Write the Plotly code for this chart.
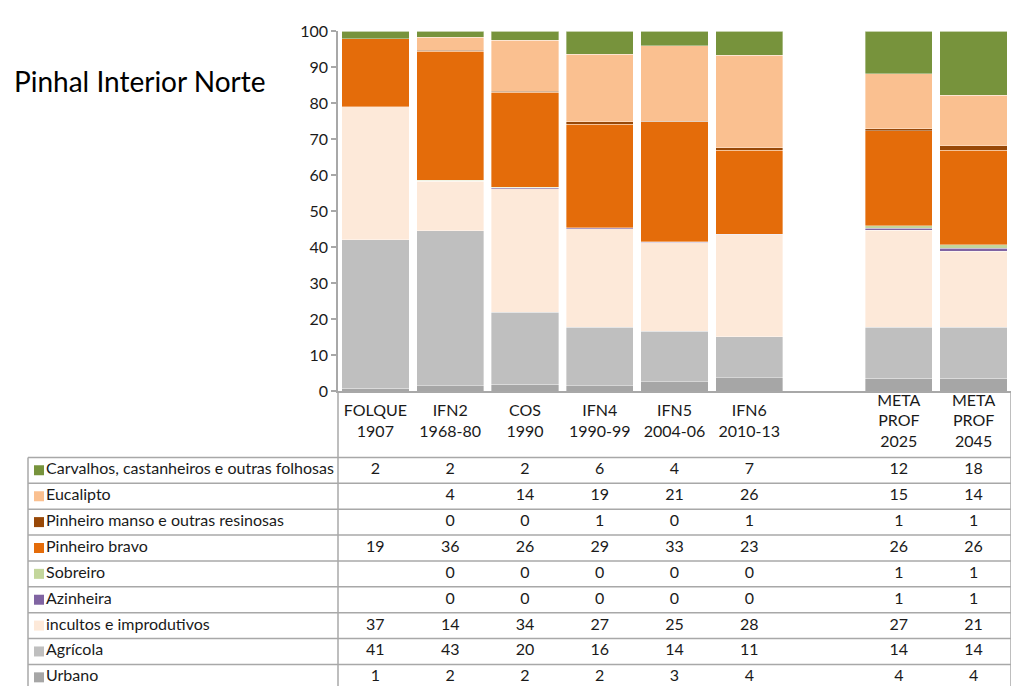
import plotly.graph_objects as go

# ---------------- data ----------------
categories = ["FOLQUE<br>1907", "IFN2<br>1968-80", "COS<br>1990", "IFN4<br>1990-99",
              "IFN5<br>2004-06", "IFN6<br>2010-13", "META<br>PROF<br>2025", "META<br>PROF<br>2045"]
spacer = " "
category_order = categories[:6] + [spacer] + categories[6:]

series_names = ["Carvalhos, castanheiros e outras folhosas", "Eucalipto",
                "Pinheiro manso e outras resinosas", "Pinheiro bravo", "Sobreiro",
                "Azinheira", "incultos e improdutivos", "Agrícola", "Urbano"]
series_colors = ["#77933C", "#FAC090", "#984807", "#E46C0A", "#C3D69B",
                 "#8064A2", "#FDE9D9", "#BFBFBF", "#A6A6A6"]

carvalhos = [2.0, 1.6, 2.4, 6.4, 4.0, 6.6, 11.7, 17.8]
eucalipto = [None, 3.6, 14.2, 18.7, 21.0, 25.7, 15.3, 14.0]
pinheiro_manso = [None, 0.3, 0.3, 0.7, 0.1, 0.7, 0.6, 1.2]
pinheiro_bravo = [19.0, 35.9, 26.4, 28.7, 33.4, 23.4, 26.4, 26.3]
sobreiro = [None, 0.1, 0.1, 0.1, 0.1, 0.0, 0.7, 1.0]
azinheira = [None, 0.1, 0.3, 0.2, 0.1, 0.1, 0.6, 0.8]
incultos = [36.9, 13.8, 34.4, 27.4, 24.6, 28.3, 26.9, 21.1]
agricola = [41.2, 43.0, 20.0, 16.2, 14.1, 11.4, 14.2, 14.2]
urbano = [0.9, 1.6, 1.9, 1.6, 2.6, 3.8, 3.6, 3.6]

series_values = [carvalhos, eucalipto, pinheiro_manso, pinheiro_bravo, sobreiro,
                 azinheira, incultos, agricola, urbano]

y_ticks = [0, 10, 20, 30, 40, 50, 60, 70, 80, 90, 100]
title_text = "Pinhal Interior Norte"

# ---------------- layout geometry (figure pixels) ----------------
W, H = 1012, 695
plot_left, plot_right = 338, 1011
plot_top, plot_bottom = 22, 392
table_left = 28
header_bottom = 460
row_h = 26.6
title_y = 73
header_label_y = 424

TXT = "#1a1a1a"
GRID = "#A8A8A8"
FONT = "Lato"

def fx(p):   # figure x px -> paper fraction
    return p / W

def fy(p):   # figure y px -> paper fraction
    return 1 - p / H

fig = go.Figure()

# stacked bars (bottom-up = reverse of table order)
for name, vals, col in reversed(list(zip(series_names, series_values, series_colors))):
    fig.add_trace(go.Bar(
        x=categories, y=vals, name=name, marker_color=col,
        marker_line_width=0.6, marker_line_color="rgba(255,255,255,0.6)",
        xaxis="x", yaxis="y", showlegend=False))

# ---------------- table (on x2/y2) ----------------
n_slots = len(category_order)
units_per_px = n_slots / (plot_right - plot_left)
x2_min = -0.5 - plot_left * units_per_px
x2_max = n_slots - 0.5

def px_to_x2(p):
    return -0.5 + (p - plot_left) * units_per_px

def py_to_y2(p):
    return (p - header_bottom) / row_h - 0.5

y2_top = py_to_y2(plot_bottom)
y2_bottom = py_to_y2(H)

col_pos = [category_order.index(c) for c in categories]

# header labels
fig.add_trace(go.Scatter(
    x=col_pos, y=[py_to_y2(header_label_y)] * len(categories), text=categories,
    mode="text", textposition="middle center",
    textfont=dict(family=FONT, size=16, color=TXT),
    xaxis="x2", yaxis="y2", showlegend=False, hoverinfo="skip"))

# legend squares and names
rows = list(range(len(series_names)))
fig.add_trace(go.Scatter(
    x=[px_to_x2(39)] * len(rows), y=rows, mode="markers",
    marker=dict(symbol="square", size=10, color=series_colors),
    xaxis="x2", yaxis="y2", showlegend=False, hoverinfo="skip"))
fig.add_trace(go.Scatter(
    x=[px_to_x2(46)] * len(rows), y=rows, text=series_names,
    mode="text", textposition="middle right",
    textfont=dict(family=FONT, size=16, color=TXT),
    xaxis="x2", yaxis="y2", showlegend=False, hoverinfo="skip"))

# values
for r, vals in enumerate(series_values):
    xs, ts = [], []
    for c, v in zip(col_pos, vals):
        if v is not None:
            xs.append(c)
            ts.append(str(int(round(v))))
    fig.add_trace(go.Scatter(
        x=xs, y=[r] * len(xs), text=ts, mode="text", textposition="middle center",
        textfont=dict(family=FONT, size=16, color=TXT),
        xaxis="x2", yaxis="y2", showlegend=False, hoverinfo="skip"))

# grid lines
shapes = []
for r in range(len(series_names) + 1):
    yb = r - 0.5
    if yb <= y2_bottom:
        shapes.append(dict(type="line", xref="x2", yref="y2",
                           x0=px_to_x2(table_left), x1=x2_max, y0=yb, y1=yb,
                           line=dict(color=GRID, width=1.5)))
shapes.append(dict(type="line", xref="x2", yref="y2", x0=px_to_x2(table_left),
                   x1=px_to_x2(table_left), y0=-0.5, y1=y2_bottom,
                   line=dict(color=GRID, width=1.5)))
for xv in (-0.5, x2_max):
    shapes.append(dict(type="line", xref="x2", yref="y2", x0=xv, x1=xv,
                       y0=y2_top, y1=y2_bottom, line=dict(color=GRID, width=1.5)))

fig.update_layout(
    width=W, height=H,
    margin=dict(l=0, r=0, t=0, b=0),
    paper_bgcolor="white", plot_bgcolor="rgba(0,0,0,0)",
    barmode="stack", bargap=0.1,
    font=dict(family=FONT, color=TXT),
    xaxis=dict(type="category", categoryorder="array", categoryarray=category_order,
               domain=[fx(plot_left), fx(plot_right)], range=[-0.5, n_slots - 0.5],
               showticklabels=False, ticks="", showgrid=False, zeroline=False,
               showline=True, linecolor=GRID, linewidth=1.5, anchor="y"),
    yaxis=dict(domain=[fy(plot_bottom), fy(plot_top)], range=[0, 100],
               tickvals=y_ticks, showgrid=False, zeroline=False,
               showline=True, linecolor=GRID, linewidth=1.5,
               ticks="outside", ticklen=5, tickcolor=GRID, tickwidth=1.5,
               tickfont=dict(family=FONT, size=16, color=TXT), anchor="x"),
    xaxis2=dict(domain=[0, fx(plot_right)], range=[x2_min, x2_max], visible=False,
                anchor="y2"),
    yaxis2=dict(domain=[0, fy(plot_bottom)], range=[y2_bottom, y2_top],
                visible=False, anchor="x2"),
    shapes=shapes,
    annotations=[dict(text=title_text, xref="paper", yref="paper",
                      x=fx(12), y=fy(title_y), xanchor="left", yanchor="middle",
                      showarrow=False, font=dict(family=FONT, size=28, color="#000"))],
)

fig.write_html(
    "out.html",
    config={"displayModeBar": False},
    post_script="document.body.style.margin='0';document.body.style.padding='0';"
                "document.documentElement.style.overflow='hidden';",
)
